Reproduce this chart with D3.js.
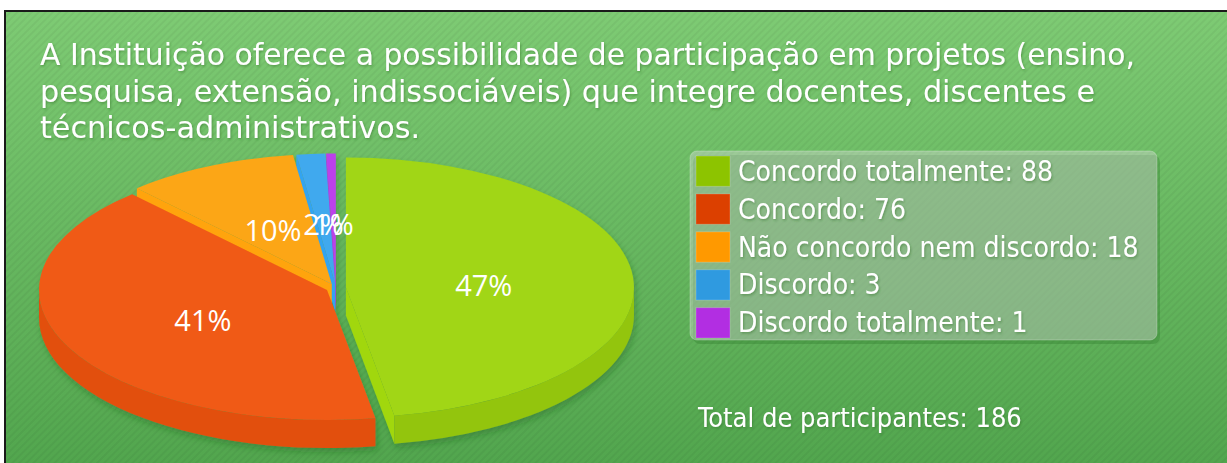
<!DOCTYPE html>
<html>
<head>
<meta charset="utf-8">
<script src="https://cdn.jsdelivr.net/npm/d3@7"></script>
<style>
  body { margin: 0; background: #fff; }
  svg { display: block; }
</style>
</head>
<body>
<svg id="svg" width="1227" height="463"></svg>
<script>
// data
var titleLines = [
  "A Instituição oferece a possibilidade de participação em projetos (ensino,",
  "pesquisa, extensão, indissociáveis) que integre docentes, discentes e",
  "técnicos-administrativos."
];
var categories = ["Concordo totalmente", "Concordo", "Não concordo nem discordo", "Discordo", "Discordo totalmente"];
var counts = [88, 76, 18, 3, 1];
var totalText = "Total de participantes: 186";

var topColors = ["#a1d614", "#f05a16", "#fca614", "#41a9ee", "#bc41ea"];
var sideColors = ["#93c50d", "#e24f0c", "#ef960b", "#2f96dc", "#a52fd6"];
var legendColors = ["#8dc400", "#dc4000", "#ff9900", "#2f9ae0", "#b22ee2"];

var svg = d3.select("#svg");
var defs = svg.append("defs");

// panel background
var bg = defs.append("linearGradient").attr("id", "bg")
    .attr("x1", 0).attr("y1", 0).attr("x2", 0).attr("y2", 1);
bg.append("stop").attr("offset", "0%").attr("stop-color", "#7ecb74");
bg.append("stop").attr("offset", "100%").attr("stop-color", "#52a64e");

var stripes = defs.append("pattern").attr("id", "stripes")
    .attr("width", 5).attr("height", 5)
    .attr("patternUnits", "userSpaceOnUse")
    .attr("patternTransform", "rotate(45)");
stripes.append("rect").attr("width", 2).attr("height", 5)
    .attr("fill", "#000").attr("opacity", 0.045);

var sh = defs.append("filter").attr("id", "tshadow")
    .attr("x", "-5%").attr("y", "-20%").attr("width", "110%").attr("height", "150%");
sh.append("feDropShadow").attr("dx", 1).attr("dy", 1.5).attr("stdDeviation", 0.8)
    .attr("flood-color", "#2b6a28").attr("flood-opacity", 0.45);

var psh = defs.append("filter").attr("id", "pshadow")
    .attr("x", "-10%").attr("y", "-10%").attr("width", "120%").attr("height", "130%");
psh.append("feDropShadow").attr("dx", 2).attr("dy", 4).attr("stdDeviation", 3)
    .attr("flood-color", "#1f5a1c").attr("flood-opacity", 0.35);

svg.append("rect").attr("x", 5).attr("y", 11).attr("width", 1222).attr("height", 452)
    .attr("fill", "url(#bg)");
svg.append("rect").attr("x", 5).attr("y", 11).attr("width", 1222).attr("height", 452)
    .attr("fill", "url(#stripes)");
svg.append("path").attr("d", "M5,463V11H1227")
    .attr("fill", "none").attr("stroke", "#1a1a1a").attr("stroke-width", 2);

// title
var titleFont = "'DejaVu Sans Condensed', 'DejaVu Sans', sans-serif";
var titleWidths = [1095, 1055, 380];
svg.append("g").attr("filter", "url(#tshadow)")
  .selectAll("text").data(titleLines).enter().append("text")
    .attr("x", 40)
    .attr("y", function(d, i) { return 65 + i * 36.5; })
    .attr("font-family", titleFont)
    .attr("font-size", "30px")
    .attr("fill", "#fff")
    .attr("textLength", function(d, i) { return titleWidths[i]; })
    .attr("lengthAdjust", "spacingAndGlyphs")
    .text(function(d) { return d; });

// 3D pie
var cx = 336, cy = 288, rx = 288, ry = 130, depth = 28, explode = 10;
var total = d3.sum(counts);
var arcs = d3.pie().sort(null).value(function(d) { return d; })(counts);
var pct = d3.format(".0%");

function off(m) { return [explode * Math.sin(m), -explode * (ry / rx) * Math.cos(m)]; }
function pt(a, o, r, dz) {
  r = r == null ? 1 : r;
  return [cx + o[0] + rx * r * Math.sin(a), cy + o[1] - ry * r * Math.cos(a) + (dz || 0)];
}
function P(p) { return p[0].toFixed(2) + "," + p[1].toFixed(2); }

var slices = arcs.map(function(d, i) {
  var m = (d.startAngle + d.endAngle) / 2;
  return { i: i, d: d, m: m, o: off(m) };
});
// back to front
var order = slices.slice().sort(function(a, b) { return -Math.cos(a.m) - -Math.cos(b.m); });

var pie = svg.append("g").attr("filter", "url(#pshadow)");

order.forEach(function(s) {
  var g = pie.append("g");
  var s0 = s.d.startAngle, e0 = s.d.endAngle, o = s.o;
  var c = [cx + o[0], cy + o[1]];
  var cB = [c[0], c[1] + depth];

  // radial faces
  [[s0, -1], [e0, 1]].forEach(function(f) {
    var n = f[0] + f[1] * Math.PI / 2;
    if (Math.cos(n) < 0) {
      var p = pt(f[0], o), pB = pt(f[0], o, 1, depth);
      g.append("path")
        .attr("d", "M" + P(c) + "L" + P(p) + "L" + P(pB) + "L" + P(cB) + "Z")
        .attr("fill", d3.color(sideColors[s.i]).brighter(0.25));
    }
  });

  // outer wall (front half only)
  var a0 = Math.max(s0, Math.PI / 2), a1 = Math.min(e0, 3 * Math.PI / 2);
  if (a1 > a0) {
    var p0 = pt(a0, o), p1 = pt(a1, o), q1 = pt(a1, o, 1, depth), q0 = pt(a0, o, 1, depth);
    g.append("path")
      .attr("d", "M" + P(p0) + "A" + rx + "," + ry + " 0 0 1 " + P(p1) +
                 "L" + P(q1) + "A" + rx + "," + ry + " 0 0 0 " + P(q0) + "Z")
      .attr("fill", sideColors[s.i]);
  }

  // top
  var ps = pt(s0, o), pe = pt(e0, o);
  var large = (e0 - s0) > Math.PI ? 1 : 0;
  g.append("path")
    .attr("d", "M" + P(c) + "L" + P(ps) + "A" + rx + "," + ry + " 0 " + large + " 1 " + P(pe) + "Z")
    .attr("fill", topColors[s.i]);
});

// percentage labels
svg.append("g").selectAll("text").data(slices).enter().append("text")
    .attr("x", function(s) { return pt(s.m, s.o, 0.48)[0]; })
    .attr("y", function(s) { return pt(s.m, s.o, 0.48)[1] + 2; })
    .attr("text-anchor", "middle")
    .attr("dominant-baseline", "central")
    .attr("font-family", "'Open Sans', sans-serif")
    .attr("font-size", "29px")
    .attr("fill", "#fff")
    .text(function(s) { return pct(s.d.value / total); });

// legend
var lg = svg.append("g");
lg.append("rect").attr("x", 693).attr("y", 155).attr("width", 467).attr("height", 189)
    .attr("rx", 7).attr("fill", "#2f7a2c").attr("opacity", 0.35);
lg.append("rect").attr("x", 690).attr("y", 151).attr("width", 467).attr("height", 189)
    .attr("rx", 7).attr("fill", "#d8d8d8").attr("fill-opacity", 0.42)
    .attr("stroke", "#fff").attr("stroke-opacity", 0.25);

var rowY = d3.scaleBand().domain(d3.range(categories.length)).range([156, 338]).paddingInner(0.2);
var rows = lg.selectAll("g.row").data(categories).enter().append("g").attr("class", "row");
rows.append("rect")
    .attr("x", 696)
    .attr("y", function(d, i) { return rowY(i); })
    .attr("width", 34)
    .attr("height", rowY.bandwidth())
    .attr("fill", function(d, i) { return legendColors[i]; })
    .attr("stroke", "#fff").attr("stroke-opacity", 0.2);
rows.append("text")
    .attr("x", 738)
    .attr("y", function(d, i) { return rowY(i) + rowY.bandwidth() / 2; })
    .attr("dominant-baseline", "central")
    .attr("font-family", titleFont)
    .attr("font-size", "28px")
    .attr("fill", "#fff")
    .attr("filter", "url(#tshadow)")
    .text(function(d, i) { return d + ": " + counts[i]; });

svg.append("text")
    .attr("x", 698).attr("y", 427)
    .attr("font-family", titleFont)
    .attr("font-size", "27px")
    .attr("fill", "#fff")
    .attr("filter", "url(#tshadow)")
    .text(totalText);
</script>
</body>
</html>
